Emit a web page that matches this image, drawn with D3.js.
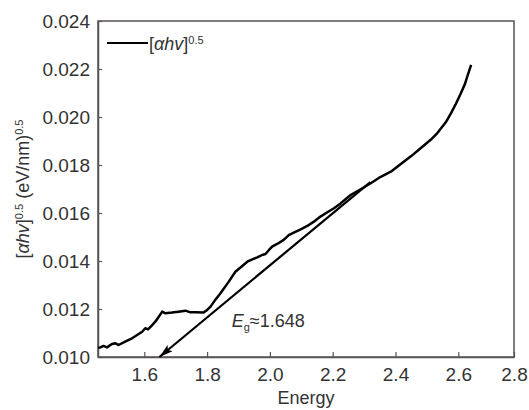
<meta charset="UTF-8">
<script src="https://d3js.org/d3.v7.min.js"></script>
<style>
  body { margin: 0; background: #fff; }
  text { font-family: "Liberation Sans", Arial, sans-serif; fill: #333; }
</style>
<div id="chart"></div>
<script>
// photon energy (eV)
const energy = [1.453, 1.460, 1.470, 1.481, 1.497, 1.508, 1.518, 1.539, 1.561, 1.582,
  1.593, 1.603, 1.612, 1.625, 1.635, 1.646, 1.657, 1.667, 1.688, 1.709,
  1.731, 1.747, 1.763, 1.789, 1.800, 1.811, 1.827, 1.842, 1.869, 1.890,
  1.912, 1.928, 1.944, 1.960, 1.975, 1.986, 1.997, 2.007, 2.023, 2.044,
  2.060, 2.076, 2.098, 2.119, 2.140, 2.161, 2.183, 2.204, 2.225, 2.257,
  2.289, 2.321, 2.353, 2.385, 2.417, 2.449, 2.480, 2.512, 2.534, 2.560,
  2.576, 2.592, 2.608, 2.624, 2.634, 2.646];
// [ahv]^0.5
const ahv = [0.01038, 0.01040, 0.01046, 0.01040, 0.01054, 0.01057, 0.01050, 0.01064, 0.01078, 0.01096,
  0.01105, 0.01120, 0.01115, 0.01133, 0.01147, 0.01168, 0.01189, 0.01182, 0.01185, 0.01189,
  0.01193, 0.01186, 0.01186, 0.01185, 0.01196, 0.01210, 0.01240, 0.01265, 0.01314, 0.01355,
  0.01379, 0.01397, 0.01407, 0.01415, 0.01425, 0.01429, 0.01446, 0.01460, 0.01471, 0.01488,
  0.01508, 0.01518, 0.01532, 0.01546, 0.01564, 0.01585, 0.01603, 0.01620, 0.01640, 0.01675,
  0.01699, 0.01724, 0.01751, 0.01772, 0.01804, 0.01836, 0.01870, 0.01905, 0.01934, 0.01978,
  0.02014, 0.02054, 0.02096, 0.02138, 0.02175, 0.02217];

// linear fit (tangent) drawn down to the energy axis
const fitE = [1.648, 2.32];
const fitV = [0.0100, 0.01729];

const xTicks = [1.6, 1.8, 2.0, 2.2, 2.4, 2.6, 2.8];
const yTicks = [0.010, 0.012, 0.014, 0.016, 0.018, 0.020, 0.022, 0.024];

var margin = {top: 21, right: 15, bottom: 53, left: 98},
    width = 529 - margin.left - margin.right,
    height = 410 - margin.top - margin.bottom;

var svg = d3.select("#chart")
  .append("svg")
    .attr("width", 529)
    .attr("height", 410);

var g = svg.append("g")
    .attr("transform", "translate(" + margin.left + "," + margin.top + ")");

// the last interval of the original axis is drawn a bit shorter
var x = d3.scaleLinear()
    .domain([1.4525, 2.6, 2.8])
    .range([0, 360.3, width]);
var y = d3.scaleLinear()
    .domain([0.010, 0.024])
    .range([height, 0]);

var axisColor = "#595353";

// frame
g.append("rect")
    .attr("width", width)
    .attr("height", height)
    .attr("fill", "none")
    .attr("stroke", axisColor)
    .attr("stroke-width", 1.5);

var xAxis = g.append("g")
    .attr("transform", "translate(0," + height + ")")
    .call(d3.axisBottom(x).tickValues(xTicks).tickFormat(d3.format(".1f"))
      .tickSizeInner(-5).tickSizeOuter(0).tickPadding(11));
var yAxis = g.append("g")
    .call(d3.axisLeft(y).tickValues(yTicks).tickFormat(d3.format(".3f"))
      .tickSizeInner(-4).tickSizeOuter(0).tickPadding(8));

[xAxis, yAxis].forEach(function(a) {
  a.select(".domain").attr("stroke", axisColor).attr("stroke-width", 1.5);
  a.selectAll(".tick line").attr("stroke", axisColor).attr("stroke-width", 1.2);
  a.selectAll(".tick text")
    .attr("fill", "#333")
    .style("font-size", "19px")
    .style("font-family", "'Liberation Sans', Arial, sans-serif");
});

// data curve
var data = energy.map(function(e, i) { return {e: e, v: ahv[i]}; });
var line = d3.line()
    .x(function(d) { return x(d.e); })
    .y(function(d) { return y(d.v); });

g.append("path")
    .datum(data)
    .attr("fill", "none")
    .attr("stroke", "#000")
    .attr("stroke-width", 2.5)
    .attr("stroke-linejoin", "round")
    .attr("d", line);

// arrow head for the fit line
svg.append("defs").append("marker")
    .attr("id", "arrow")
    .attr("markerUnits", "userSpaceOnUse")
    .attr("viewBox", "0 -4 14 8")
    .attr("refX", 14)
    .attr("refY", 0)
    .attr("markerWidth", 14)
    .attr("markerHeight", 8)
    .attr("orient", "auto-start-reverse")
  .append("path")
    .attr("d", "M0,-4L14,0L0,4L3,0Z")
    .attr("fill", "#000");

var fit = fitE.map(function(e, i) { return {e: e, v: fitV[i]}; });
g.append("path")
    .datum(fit)
    .attr("fill", "none")
    .attr("stroke", "#000")
    .attr("stroke-width", 2.2)
    .attr("marker-start", "url(#arrow)")
    .attr("d", line);

// annotation
var ann = g.append("text")
    .attr("x", 231.7 - margin.left)
    .attr("y", 327 - margin.top)
    .style("font-size", "18px");
ann.append("tspan").style("font-style", "italic").text("E");
ann.append("tspan").attr("dy", 4).style("font-size", "11px").text("g");
ann.append("tspan").attr("dy", -4).text("≈1.648");

// legend
g.append("line")
    .attr("x1", 107 - margin.left).attr("x2", 148 - margin.left)
    .attr("y1", 43 - margin.top).attr("y2", 43 - margin.top)
    .attr("stroke", "#000")
    .attr("stroke-width", 2);
var leg = g.append("text")
    .attr("x", 149 - margin.left)
    .attr("y", 50 - margin.top)
    .style("font-size", "18px");
leg.append("tspan").text("[");
leg.append("tspan").style("font-style", "italic").text("αhv");
leg.append("tspan").text("]");
leg.append("tspan").attr("dy", -6).style("font-size", "11px").text("0.5");

// axis titles
svg.append("text")
    .attr("x", margin.left + width / 2)
    .attr("y", 404)
    .attr("text-anchor", "middle")
    .style("font-size", "18px")
    .text("Energy");

var yl = svg.append("text")
    .attr("transform", "translate(29," + (margin.top + height / 2) + ") rotate(-90)")
    .attr("text-anchor", "middle")
    .style("font-size", "18px");
yl.append("tspan").text("[");
yl.append("tspan").style("font-style", "italic").text("αhv");
yl.append("tspan").text("]");
yl.append("tspan").attr("dy", -6).style("font-size", "11px").text("0.5");
yl.append("tspan").attr("dy", 6).text(" (eV/nm)");
yl.append("tspan").attr("dy", -6).style("font-size", "11px").text("0.5");
</script>
